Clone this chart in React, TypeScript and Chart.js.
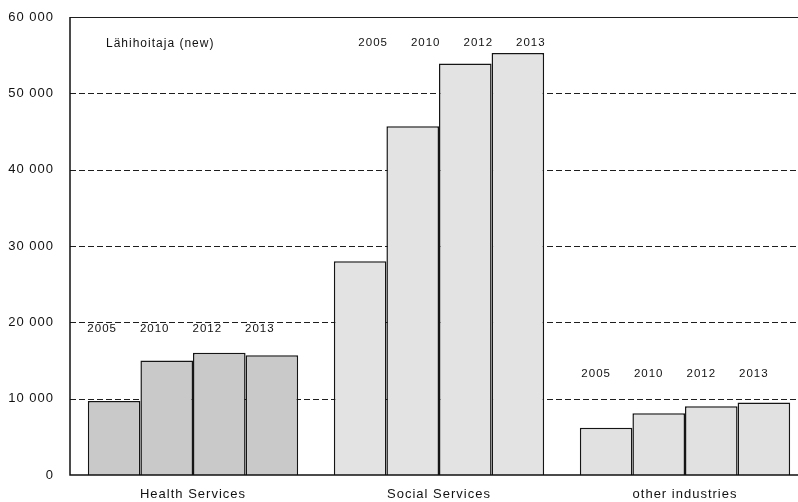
import React, { useEffect, useRef } from "react";
import { Chart, registerables } from "chart.js";

Chart.register(...registerables);

// Employment of practical nurses (lähihoitaja) by industry
const categories = ["Health Services", "Social Services", "other industries"];
const years = ["2005", "2010", "2012", "2013"];
const values2005 = [9700, 28000, 6200];
const values2010 = [15000, 45700, 8100];
const values2012 = [16000, 53900, 9000];
const values2013 = [15700, 55300, 9500];
const yTicks = [0, 10000, 20000, 30000, 40000, 50000, 60000];
// value level at which the year captions sit above each group
const yearLabelLevels = [19100, 56600, 13300];
const chartTitle = "Lähihoitaja (new)";

const seriesValues = [values2005, values2010, values2012, values2013];
const groupFills = ["#c9c9c9", "#e3e3e3", "#e1e1e1"];
const yearLabelShift = [-12, 13, -10];

const formatThousands = (v: number) =>
  String(v).replace(/\B(?=(\d{3})+(?!\d))/g, " ");

const FONT = "'Liberation Sans', Arial, sans-serif";
const TEXT = "#111";

const spacingPlugin = {
  id: "letterSpacing",
  beforeDraw(chart: any) {
    chart.ctx.letterSpacing = "1px";
  },
};

const gridPlugin = {
  id: "customGrid",
  beforeDatasetsDraw(chart: any) {
    const { ctx, chartArea } = chart;
    const y = chart.scales.y;
    ctx.save();
    ctx.strokeStyle = "#1e1e1e";
    ctx.lineWidth = 1;
    yTicks.forEach((v) => {
      if (v === 0) return;
      const py = Math.round(y.getPixelForValue(v)) + 0.5;
      ctx.setLineDash(v === yTicks[yTicks.length - 1] ? [] : [6, 3]);
      ctx.beginPath();
      ctx.moveTo(chartArea.left, py);
      ctx.lineTo(chartArea.right, py);
      ctx.stroke();
    });
    ctx.restore();
  },
  afterDatasetsDraw(chart: any) {
    const { ctx, chartArea } = chart;
    const y = chart.scales.y;
    ctx.save();
    ctx.strokeStyle = "#111";
    ctx.lineWidth = 1.5;
    ctx.setLineDash([]);
    const base = y.getPixelForValue(0);
    ctx.beginPath();
    ctx.moveTo(chartArea.left, chartArea.top);
    ctx.lineTo(chartArea.left, base);
    ctx.lineTo(chartArea.right, base);
    ctx.stroke();

    // year captions above each bar
    ctx.fillStyle = TEXT;
    ctx.font = `11.5px ${FONT}`;
    ctx.textAlign = "center";
    ctx.textBaseline = "middle";
    ctx.letterSpacing = "1px";
    chart.data.datasets.forEach((ds: any, i: number) => {
      const meta = chart.getDatasetMeta(i);
      meta.data.forEach((bar: any, j: number) => {
        ctx.fillText(
          ds.label,
          bar.x + yearLabelShift[j],
          y.getPixelForValue(yearLabelLevels[j])
        );
      });
    });

    // title inside the plot
    ctx.font = `12px ${FONT}`;
    ctx.textAlign = "left";
    ctx.fillText(chartTitle, chartArea.left + 36, chartArea.top + 27);
    ctx.restore();
  },
};

export default function App() {
  const canvasRef = useRef<HTMLCanvasElement | null>(null);

  useEffect(() => {
    if (!canvasRef.current) return;
    const chart = new Chart(canvasRef.current, {
      type: "bar",
      data: {
        labels: categories,
        datasets: years.map((yr, i) => ({
          label: yr,
          data: seriesValues[i],
          backgroundColor: groupFills,
          borderColor: "#151515",
          borderWidth: 1.5,
          borderSkipped: "bottom",
          categoryPercentage: 0.855,
          barPercentage: 1.0,
        })),
      },
      options: {
        animation: false,
        responsive: false,
        maintainAspectRatio: false,
        devicePixelRatio: 1,
        layout: { padding: { top: 17, right: 2, bottom: 0, left: 0 } },
        plugins: {
          legend: { display: false },
          tooltip: { enabled: false },
          title: { display: false },
        },
        scales: {
          x: {
            grid: { display: false, drawTicks: false },
            border: { display: false },
            ticks: {
              color: TEXT,
              font: { family: FONT, size: 13 },
              padding: 12,
              maxRotation: 0,
            },
            afterFit(scale: any) {
              scale.height = 27;
            },
          },
          y: {
            min: 0,
            max: 60000,
            grid: { display: false, drawTicks: false },
            border: { display: false },
            afterBuildTicks(scale: any) {
              scale.ticks = yTicks.map((v) => ({ value: v }));
            },
            ticks: {
              color: TEXT,
              font: { family: FONT, size: 13 },
              padding: 16,
              callback: (v: any) => formatThousands(Number(v)),
            },
            afterFit(scale: any) {
              scale.width = 70;
              scale.paddingTop = 0;
              scale.paddingBottom = 0;
            },
          },
        },
      },
      plugins: [spacingPlugin, gridPlugin],
    });
    return () => chart.destroy();
  }, []);

  return (
    <div
      style={{
        position: "absolute",
        left: 0,
        top: 0,
        width: 798,
        height: 502,
        overflow: "hidden",
        background: "#fff",
      }}
    >
      <canvas ref={canvasRef} width={810} height={502} />
    </div>
  );
}
